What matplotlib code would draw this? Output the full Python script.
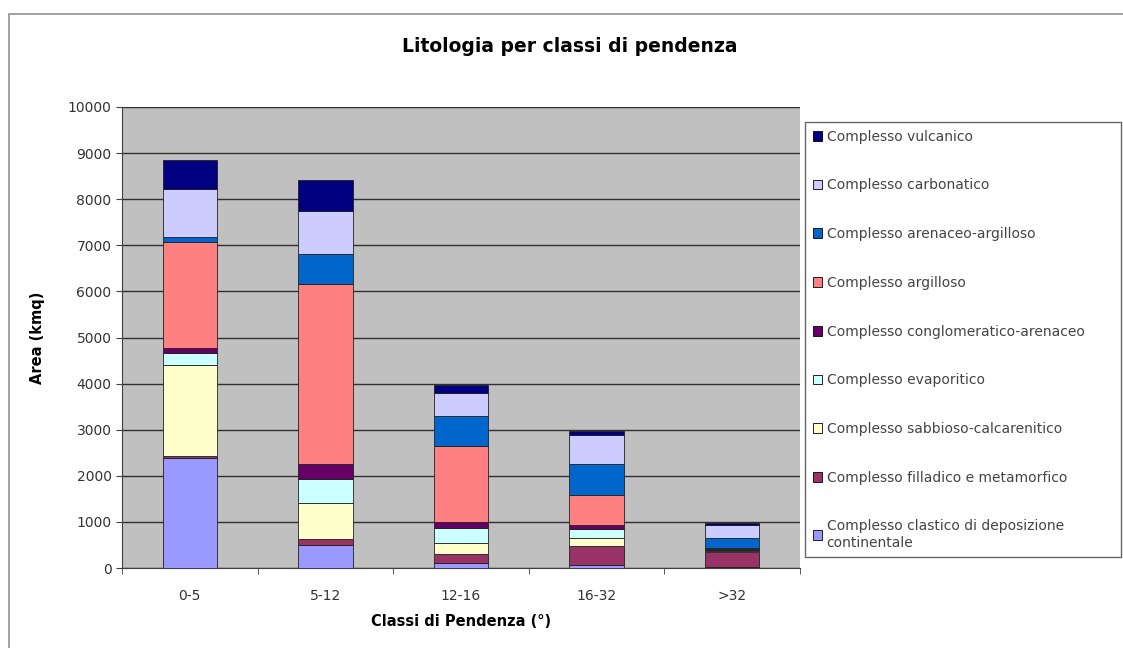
import numpy as np
import matplotlib
matplotlib.use("Agg")
import matplotlib.pyplot as plt
from matplotlib.patches import Rectangle, Patch

plt.rcParams["font.family"] = ["DejaVu Sans"]

# slope classes and lithology areas (kmq), bottom -> top of each stack
CLASSES = ["0-5", "5-12", "12-16", "16-32", ">32"]
LABELS = [
    "Complesso clastico di deposizione\ncontinentale",
    "Complesso filladico e metamorfico",
    "Complesso sabbioso-calcarenitico",
    "Complesso evaporitico",
    "Complesso conglomeratico-arenaceo",
    "Complesso argilloso",
    "Complesso arenaceo-argilloso",
    "Complesso carbonatico",
    "Complesso vulcanico",
]
clastico = [2380, 500, 100, 65, 20]
filladico = [40, 120, 200, 410, 320]
sabbioso = [1990, 780, 250, 165, 20]
evaporitico = [255, 540, 310, 215, 20]
conglomeratico = [108, 310, 145, 70, 25]
argilloso = [2290, 3900, 1640, 650, 20]
arenaceo = [110, 665, 650, 690, 215]
carbonatico = [1050, 925, 505, 615, 290]
vulcanico = [635, 680, 165, 90, 50]
SERIES = [clastico, filladico, sabbioso, evaporitico, conglomeratico,
          argilloso, arenaceo, carbonatico, vulcanico]
COLORS = ["#9999FF", "#993366", "#FFFFCC", "#CCFFFF", "#660066",
          "#FF8080", "#0066CC", "#CCCCFF", "#000080"]

fig = plt.figure(figsize=(11.23, 6.48), dpi=100)
W, H = 1123, 648
ax = fig.add_axes([122 / W, 1 - 568 / H, (800 - 122) / W, (568 - 107) / H])

# outer chart border
fig.patches.append(Rectangle((9 / W, -0.1), 1.2, 1 - 14 / H + 0.1, transform=fig.transFigure,
                             fill=False, edgecolor="#909090", lw=1.2))

ax.set_facecolor("#C0C0C0")
x = np.arange(len(CLASSES))
bottom = np.zeros(len(CLASSES))
handles = []
for vals, col, lab in zip(SERIES, COLORS, LABELS):
    ax.bar(x, vals, 0.4, bottom=bottom, color=col, edgecolor="#202020", lw=0.6, zorder=3)
    bottom += np.array(vals)
    handles.append(Patch(facecolor=col, edgecolor="black", lw=0.6, label=lab))

ax.set_xlim(-0.5, len(CLASSES) - 0.5)
ax.set_ylim(0, 10000)
ax.set_yticks(np.arange(0, 10001, 1000))
ax.yaxis.grid(True, color="#303030", lw=1.0, zorder=1)
ax.set_xticks(x)
ax.set_xticklabels(CLASSES, fontsize=10, color="#333333")
ax.set_xticks(np.arange(-0.5, len(CLASSES)), minor=True)
ax.tick_params(axis="x", which="major", length=0, pad=15)
ax.tick_params(axis="x", which="minor", length=4, color="#404040")
ax.tick_params(axis="y", labelsize=10, labelcolor="#333333", length=4, color="#404040")
for s in ["top", "right"]:
    ax.spines[s].set_visible(False)
ax.spines["left"].set_color("#404040")
ax.spines["bottom"].set_color("#404040")

ax.set_xlabel("Classi di Pendenza (°)", fontsize=10.5, fontweight="bold", labelpad=8)
ax.set_ylabel("Area (kmq)", fontsize=10.5, fontweight="bold", labelpad=16)
fig.text(570 / W, 1 - 47 / H, "Litologia per classi di pendenza", ha="center", va="center",
         fontsize=13.5, fontweight="bold")

leg = fig.legend(handles[::-1], [h.get_label() for h in handles[::-1]],
                 bbox_to_anchor=(805 / W, 1 - 557 / H, (1121 - 805) / W, (557 - 122) / H),
                 loc="upper left", mode="expand", fontsize=10, labelspacing=2.5,
                 handlelength=0.7, handleheight=0.7, handletextpad=0.3,
                 borderaxespad=0, frameon=True, fancybox=False, borderpad=0.55)
leg.get_frame().set_edgecolor("#404040")
leg.get_frame().set_linewidth(1.0)
for t in leg.get_texts():
    t.set_color("#444444")

fig.savefig("out.png", dpi=100)
